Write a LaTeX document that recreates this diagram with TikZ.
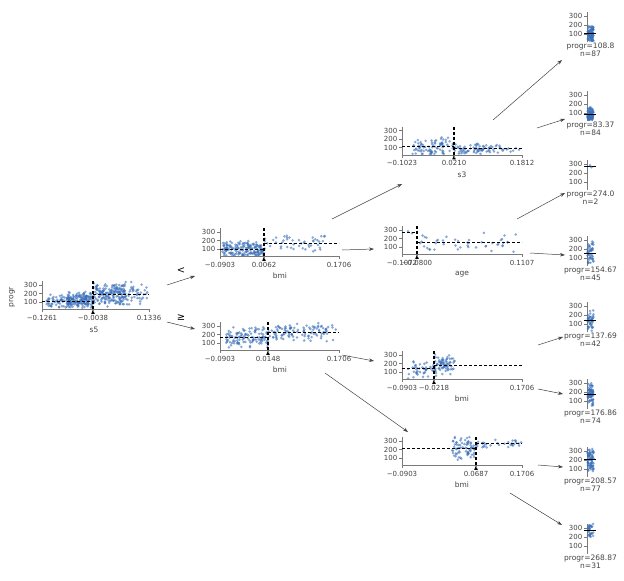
\documentclass[tikz,border=0pt]{standalone}
\usepackage{fontspec}
\setmainfont{DejaVu Sans}
\usetikzlibrary{arrows.meta}
\definecolor{txt}{HTML}{444443}
\definecolor{ptc}{HTML}{3A70BA}
\definecolor{spine}{HTML}{7A7A7A}
\tikzset{
  ptstyle/.style={fill=ptc,fill opacity=0.6},
  spinestyle/.style={draw=spine,line width=0.6pt},
  splitline/.style={draw=black,dash pattern=on 3pt off 2pt,line width=1.1pt},
  ticklab/.style={font=\fontsize{7}{8}\selectfont,text=txt,inner sep=0pt},
  axlab/.style={font=\fontsize{7.5}{9}\selectfont,text=txt,inner sep=0pt},
  leaflab/.style={font=\fontsize{7.5}{9}\selectfont,text=txt,inner sep=0pt},
  cmplab/.style={font=\fontsize{10}{11}\selectfont,text=black,inner sep=0pt},
  edge/.style={draw=txt,line width=0.5pt,-{Stealth[length=5pt,width=3.5pt]}},
  meanline/.style={draw=black,line width=0.9pt},
}
% n, xa, xb, mean, spread, y300, scale
\newcommand\scatpts[7]{%
  \foreach \k in {1,...,#1}{%
    \pgfmathsetmacro\mypx{#2+(#3-#2)*(0.5+0.5*rand)}%
    \pgfmathsetmacro\mypv{max(25,min(346,#4+#5*(0.65*rand+0.35*rand)))}%
    \pgfmathsetmacro\mypy{#6+(300-\mypv)*#7}%
    \fill[ptstyle] (\mypx,\mypy) circle (1.4pt);
  }}
% x0, x1, y300
\newcommand\decax[3]{%
  \pgfmathsetmacro\mybl{#3+24.4}%
  \draw[spinestyle] (#1,#3-4) -- (#1,\mybl) -- (#2,\mybl);
  \foreach \v in {100,200,300}{%
    \pgfmathsetmacro\myty{#3+(300-\v)*0.085}%
    \draw[spinestyle] (#1-3,\myty) -- (#1,\myty);
    \node[ticklab,anchor=east] at (#1-4.5,\myty) {\v};
  }}
% x, y300, label
\newcommand\xtk[3]{%
  \pgfmathsetmacro\mybl{#2+24.4}%
  \draw[spinestyle] (#1,\mybl) -- (#1,\mybl+3);
  \node[ticklab] at (#1,\mybl+8.5) {#3};}
% x0, x1, xs, y300, meanL, meanR
\newcommand\splitmark[6]{%
  \pgfmathsetmacro\mybl{#4+24.4}%
  \pgfmathsetmacro\myyl{#4+(300-#5)*0.085}%
  \pgfmathsetmacro\myyr{#4+(300-#6)*0.085}%
  \draw[splitline] (#1,\myyl) -- (#3,\myyl);
  \draw[splitline] (#3,\myyr) -- (#2,\myyr);
  \draw[splitline] (#3,#4-4) -- (#3,\mybl);
  \fill[black] (#3,\mybl) -- (#3-1.8,\mybl+4.5) -- (#3+1.8,\mybl+4.5) -- cycle;}
% y300, mean, n, spread, label, nlabel
\newcommand\leafnode[6]{%
  \draw[spinestyle] (587,#1-4) -- (587,#1+26);
  \foreach \v in {100,200,300}{%
    \pgfmathsetmacro\myty{#1+(300-\v)*0.09}%
    \draw[spinestyle] (584,\myty) -- (587,\myty);
    \node[ticklab,anchor=east] at (582.5,\myty) {\v};
  }
  \ifnum#3>2 \scatpts{#3}{587.5}{593.5}{#2}{#4}{#1}{0.09}\fi
  \pgfmathsetmacro\myym{#1+(300-#2)*0.09}%
  \draw[meanline] (584,\myym) -- (596,\myym);
  \node[leaflab] at (590.5,#1+30) {#5};
  \node[leaflab] at (590.5,#1+37.5) {#6};}

\begin{document}
\begin{tikzpicture}[x=1pt,y=-1pt]
\useasboundingbox (0,0) rectangle (624,581);
\fill[white] (0,0) rectangle (624,581);
\pgfmathsetseed{7}

% ---------- root: s5 ----------
\scatpts{60}{46}{72}{105}{95}{285}{0.085}
\scatpts{158}{66}{93}{115}{110}{285}{0.085}
\scatpts{150}{93}{126}{190}{150}{285}{0.085}
\scatpts{74}{108}{148}{200}{140}{285}{0.085}
\decax{42}{149}{285}
\splitmark{42}{149}{93}{285}{110}{193}
\xtk{42}{285}{−0.1261}
\xtk{93}{285}{−0.0038}
\xtk{149}{285}{0.1336}
\node[axlab] (rootx) at (94,329.5) {s5};
\node[axlab,rotate=90] (rooty) at (12,297) {progr};

% ---------- bmi (upper) ----------
\scatpts{171}{222}{264}{100}{110}{232}{0.085}
\scatpts{47}{264}{326}{165}{130}{232}{0.085}
\decax{220}{339}{232}
\splitmark{220}{339}{264}{232}{96}{160}
\xtk{220}{232}{−0.0903}
\xtk{264}{232}{0.0062}
\xtk{339}{232}{0.1706}
\node[axlab] (btx) at (280,276) {bmi};

% ---------- bmi (lower) ----------
\scatpts{116}{226}{268}{165}{135}{326}{0.085}
\scatpts{108}{268}{336}{226}{120}{326}{0.085}
\decax{220}{339}{326}
\splitmark{220}{339}{268}{326}{163}{226}
\xtk{220}{326}{−0.0903}
\xtk{268}{326}{0.0148}
\xtk{339}{326}{0.1706}
\node[axlab] (bbx) at (280,370) {bmi};

% ---------- s3 ----------
\scatpts{87}{412}{454}{112}{130}{130.5}{0.085}
\scatpts{60}{454}{490}{85}{75}{130.5}{0.085}
\scatpts{24}{480}{522}{83}{60}{130.5}{0.085}
\decax{402}{522}{130.5}
\splitmark{402}{522}{454}{130.5}{108.8}{83.37}
\xtk{402}{130.5}{−0.1023}
\xtk{454}{130.5}{0.0210}
\xtk{522}{130.5}{0.1812}
\node[axlab] (s3x) at (462,175) {s3};

% ---------- age ----------
\fill[ptstyle] (408,{230+(300-285)*0.085}) circle (1.4pt);
\fill[ptstyle] (412,{230+(300-263)*0.085}) circle (1.4pt);
\scatpts{45}{420}{516}{160}{130}{230}{0.085}
\decax{402}{522}{230}
\splitmark{402}{522}{417}{230}{274}{154.67}
\xtk{402}{230}{−0.1072}
\xtk{417}{230}{−0.0800}
\xtk{522}{230}{0.1107}
\node[axlab] (agex) at (462,274.5) {age};

% ---------- bmi (third) ----------
\scatpts{42}{405}{434}{140}{120}{355}{0.085}
\scatpts{74}{434}{455}{180}{140}{355}{0.085}
\decax{402}{522}{355}
\splitmark{402}{522}{434}{355}{137.69}{176.86}
\xtk{402}{355}{−0.0903}
\xtk{434}{355}{−0.0218}
\xtk{522}{355}{0.1706}
\node[axlab] (b3x) at (462,399) {bmi};

% ---------- bmi (fourth) ----------
\scatpts{77}{452}{476}{209}{150}{441}{0.085}
\scatpts{31}{476}{522}{269}{65}{441}{0.085}
\decax{402}{522}{441}
\splitmark{402}{522}{476}{441}{208.57}{268.87}
\xtk{402}{441}{−0.0903}
\xtk{476}{441}{0.0687}
\xtk{522}{441}{0.1706}
\node[axlab] (b4x) at (462,485) {bmi};

% ---------- leaves ----------
\leafnode{16}{108.8}{87}{115}{progr=108.8}{n=87}
\leafnode{95}{83.37}{84}{95}{progr=83.37}{n=84}
\leafnode{164}{274}{2}{20}{progr=274.0}{n=2}
\fill[ptstyle] (590,{164+(300-285)*0.09}) circle (1.4pt);
\fill[ptstyle] (591.5,{164+(300-263)*0.09}) circle (1.4pt);
\leafnode{240}{154.67}{45}{135}{progr=154.67}{n=45}
\leafnode{306}{137.69}{42}{125}{progr=137.69}{n=42}
\leafnode{383}{176.86}{74}{145}{progr=176.86}{n=74}
\leafnode{451}{208.57}{77}{145}{progr=208.57}{n=77}
\leafnode{528}{268.87}{31}{95}{progr=268.87}{n=31}

% ---------- connectors ----------
\coordinate (r-o1) at (167,285);  \coordinate (bt-in) at (195,276);
\coordinate (r-o2) at (167,322);  \coordinate (bb-in) at (195,329);
\coordinate (bt-o1) at (332,219); \coordinate (s3-in) at (402,184);
\coordinate (bt-o2) at (342,250); \coordinate (age-in) at (374,249);
\coordinate (bb-o1) at (342,355); \coordinate (b3-in) at (374,361);
\coordinate (bb-o2) at (325,373); \coordinate (b4-in) at (408,432);
\coordinate (s3-o1) at (493,120); \coordinate (l1-in) at (562,60);
\coordinate (s3-o2) at (537,128); \coordinate (l2-in) at (565,119);
\coordinate (age-o1) at (517,219); \coordinate (l3-in) at (565,193);
\coordinate (age-o2) at (530,253); \coordinate (l4-in) at (565,255);
\coordinate (b3-o1) at (538,345); \coordinate (l5-in) at (563,337);
\coordinate (b3-o2) at (538,389); \coordinate (l6-in) at (563,394);
\coordinate (b4-o1) at (538,465); \coordinate (l7-in) at (563,467);
\coordinate (b4-o2) at (510,493); \coordinate (l8-in) at (562,525);
\draw[edge] (r-o1) -- (bt-in);
\draw[edge] (r-o2) -- (bb-in);
\node[cmplab] (lt) at (181,271) {<};
\node[cmplab] (ge) at (181,318) {≥};
\draw[edge] (bt-o1) -- (s3-in);
\draw[edge] (bt-o2) -- (age-in);
\draw[edge] (bb-o1) -- (b3-in);
\draw[edge] (bb-o2) -- (b4-in);
\draw[edge] (s3-o1) -- (l1-in);
\draw[edge] (s3-o2) -- (l2-in);
\draw[edge] (age-o1) -- (l3-in);
\draw[edge] (age-o2) -- (l4-in);
\draw[edge] (b3-o1) -- (l5-in);
\draw[edge] (b3-o2) -- (l6-in);
\draw[edge] (b4-o1) -- (l7-in);
\draw[edge] (b4-o2) -- (l8-in);
\end{tikzpicture}
\end{document}
